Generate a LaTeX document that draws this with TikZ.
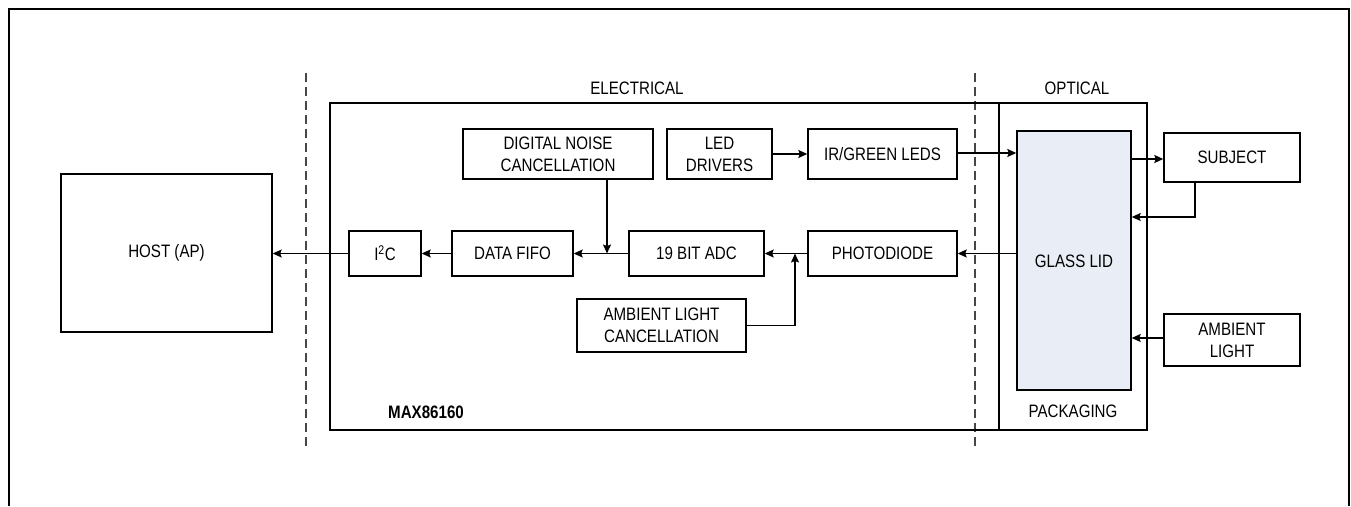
\documentclass[tikz,border=0pt]{standalone}
\usepackage{fontspec}
\setmainfont{Liberation Sans}[FakeStretch=0.84]
\usetikzlibrary{arrows.meta}
\definecolor{glassfill}{RGB}{233,237,245}
\definecolor{dashgray}{RGB}{70,70,70}
\begin{document}
\begin{tikzpicture}[x=1pt,y=-1pt,
  every node/.style={font=\fontsize{18}{22}\selectfont, inner sep=0pt},
  blk/.style={draw=black, line width=1.4pt, align=center},
  conn/.style={line width=1.3pt, -{Stealth[length=9pt,width=8pt,inset=1.5pt]}},
  divider/.style={draw=dashgray, line width=1.3pt, dash pattern=on 9pt off 5pt},
  lbl/.style={}]
\useasboundingbox (0,0) rectangle (1351,506);
% outer frame
\draw[line width=2.2pt] (9,506) -- (9,9) -- (1349,9) -- (1349,506);
% dashed dividers
\coordinate (d1t) at (306,73); \coordinate (d1b) at (306,450);
\coordinate (d2t) at (975,73); \coordinate (d2b) at (975,450);
\draw[divider] (d1t) -- (d1b);
\draw[divider] (d2t) -- (d2b);
% enclosing boxes
\node[blk, minimum width=669pt, minimum height=327pt] (max) at (664.5,266.5) {};
\node[blk, minimum width=148pt, minimum height=327pt] (opt) at (1073,266.5) {};
\node[blk, fill=glassfill, minimum width=114pt, minimum height=259pt] (glass) at (1074,260.5) {};
% labels
\node[lbl] (elec) at (637,88) {ELECTRICAL};
\node[lbl] (optl) at (1077,88) {OPTICAL};
\node[lbl] (glasst) at (1074,261) {GLASS LID};
\node[lbl] (pack) at (1073,411) {PACKAGING};
\node[lbl, anchor=west, font=\fontsize{18}{22}\selectfont\bfseries] (maxl) at (388,412) {MAX86160};
% blocks
\node[blk, minimum width=211pt, minimum height=158pt] (host) at (166.5,253) {HOST (AP)};
\node[blk, minimum width=72pt, minimum height=45pt] (i2c) at (385,253.5) {I\textsuperscript{2}C};
\node[blk, minimum width=121pt, minimum height=45pt] (fifo) at (512.5,253.5) {DATA FIFO};
\node[blk, minimum width=135pt, minimum height=45pt] (adc) at (696.5,253.5) {19 BIT ADC};
\node[blk, minimum width=190pt, minimum height=50pt] (dnc) at (558,154) {DIGITAL NOISE\\CANCELLATION};
\node[blk, minimum width=105pt, minimum height=50pt] (led) at (719.5,154) {LED\\DRIVERS};
\node[blk, minimum width=149pt, minimum height=50pt] (irg) at (882.5,154) {IR/GREEN LEDS};
\node[blk, minimum width=149pt, minimum height=45pt] (pd) at (882.5,253.5) {PHOTODIODE};
\node[blk, minimum width=169pt, minimum height=53pt] (alc) at (661.5,325.5) {AMBIENT LIGHT\\CANCELLATION};
\node[blk, minimum width=136pt, minimum height=49pt] (subj) at (1232,157.5) {SUBJECT};
\node[blk, minimum width=136pt, minimum height=52pt] (amb) at (1232,340) {AMBIENT\\LIGHT};
% connectors
\draw[conn] (i2c.west) -- (i2c.west -| host.east);
\draw[conn] (fifo.west) -- (fifo.west -| i2c.east);
\draw[conn] (adc.west) -- (adc.west -| fifo.east);
\coordinate (dncj) at (607,253.5);
\draw[conn] (dnc.south -| dncj) -- (dncj);
\draw[conn] (led.east) -- (led.east -| irg.west);
\draw[conn] ([yshift=1pt]irg.east) -- ([yshift=1pt]irg.east -| glass.west);
\coordinate (gsub) at (1131,159);
\draw[conn] (gsub) -- (gsub -| subj.west);
\coordinate (sret) at (1195,217);
\draw[conn] (subj.south -| sret) -- (sret) -- (sret -| glass.east);
\draw[conn] (pd.east -| glass.west) -- (pd.east);
\draw[conn] (pd.west) -- (adc.east);
\coordinate (alcj) at (795,253.5);
\draw[conn] (alc.east) -- (alc.east -| alcj) -- (alcj);
\coordinate (ambp) at (1164,338);
\draw[conn] (ambp) -- (ambp -| glass.east);
\end{tikzpicture}
\end{document}
